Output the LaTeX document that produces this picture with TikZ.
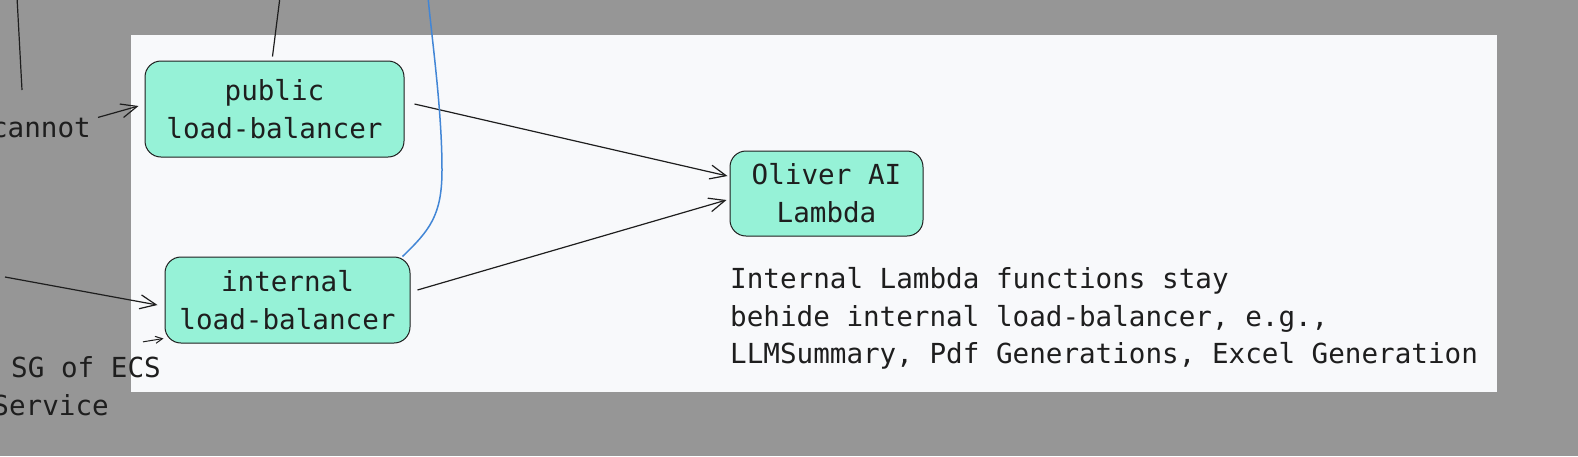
\documentclass[tikz,border=0pt]{standalone}
\usepackage{fontspec}
\setmonofont{DejaVu Sans Mono}
\usetikzlibrary{arrows.meta}
\definecolor{bggray}{HTML}{969696}
\definecolor{panelc}{HTML}{F8F9FB}
\definecolor{mint}{HTML}{96F2D7}
\definecolor{edgeblue}{HTML}{4286D6}
\definecolor{ink}{HTML}{1E1E1E}
\begin{document}
\begin{tikzpicture}[x=1pt,y=-1pt,
  box/.style={draw=ink, line width=1pt, fill=mint, rounded corners=16pt, align=center, inner sep=0pt, text=ink, font=\ttfamily\fontsize{27.6}{38}\selectfont},
  lbl/.style={inner sep=0pt, text=ink, font=\ttfamily\fontsize{27.6}{37.5}\selectfont},
  conn/.style={draw=ink, line width=1.2pt, -{Straight Barb[length=16pt,width=14pt]}},
  smallconn/.style={draw=ink, line width=1pt, -{Straight Barb[length=7pt,width=7pt]}},
  plain/.style={draw=ink, line width=1.2pt}]
\useasboundingbox (0,0) rectangle (1578,456);
\fill[bggray] (0,0) rectangle (1578,456);
\fill[panelc] (131,35) rectangle (1497,392);

\node[box, minimum width=259pt, minimum height=96pt] (pub) at (274.5,109) {public\\load-balancer};
\node[box, minimum width=245pt, minimum height=86pt] (int) at (287.5,300) {internal\\load-balancer};
\node[box, minimum width=193pt, minimum height=85pt] (oli) at (826.5,193.5) {Oliver AI\\Lambda};

\node[lbl, anchor=north west, align=left] (desc) at (730,267.5) {Internal Lambda functions stay\\behide internal load-balancer, e.g.,\\LLMSummary, Pdf Generations, Excel Generation};

\node[lbl, anchor=base east] (cannot) at (91,137) {cannot};
\node[lbl, anchor=base west] (sg) at (11,377) {SG of ECS};
\node[lbl, anchor=base east] (svc) at (109,415) {Service};

\coordinate (bluetop) at (428,-3);
\coordinate (blacktop) at (280,-3);
\coordinate (lefttop) at (17,-3);
\coordinate (leftbot) at (22,90);
\coordinate (lftin) at (5,277);

\draw[conn] ([xshift=10pt,yshift=5pt]pub.east) -- ([xshift=-2pt,yshift=17.5pt]oli.west);
\draw[conn] ([xshift=7pt,yshift=10pt]int.east) -- ([xshift=-3pt,yshift=-6.5pt]oli.west);

\draw[edgeblue, line width=1.5pt] ([xshift=115pt]int.north) .. controls (430,230) and (442,215) .. (442,170) .. controls (442,110) and (432,40) .. (bluetop);

\draw[plain] (blacktop) -- ([xshift=-2pt,yshift=4pt]pub.north);
\draw[plain] (lefttop) -- (leftbot);

\draw[conn] ([xshift=7pt]cannot.north east) -- ([xshift=-6pt,yshift=3pt]pub.west);
\draw[conn] (lftin) -- ([xshift=-7pt,yshift=-5pt]int.west);
\draw[smallconn] ([xshift=132pt,yshift=14pt]sg.north west) -- ([xshift=-1pt,yshift=5pt]int.south west);
\end{tikzpicture}
\end{document}
